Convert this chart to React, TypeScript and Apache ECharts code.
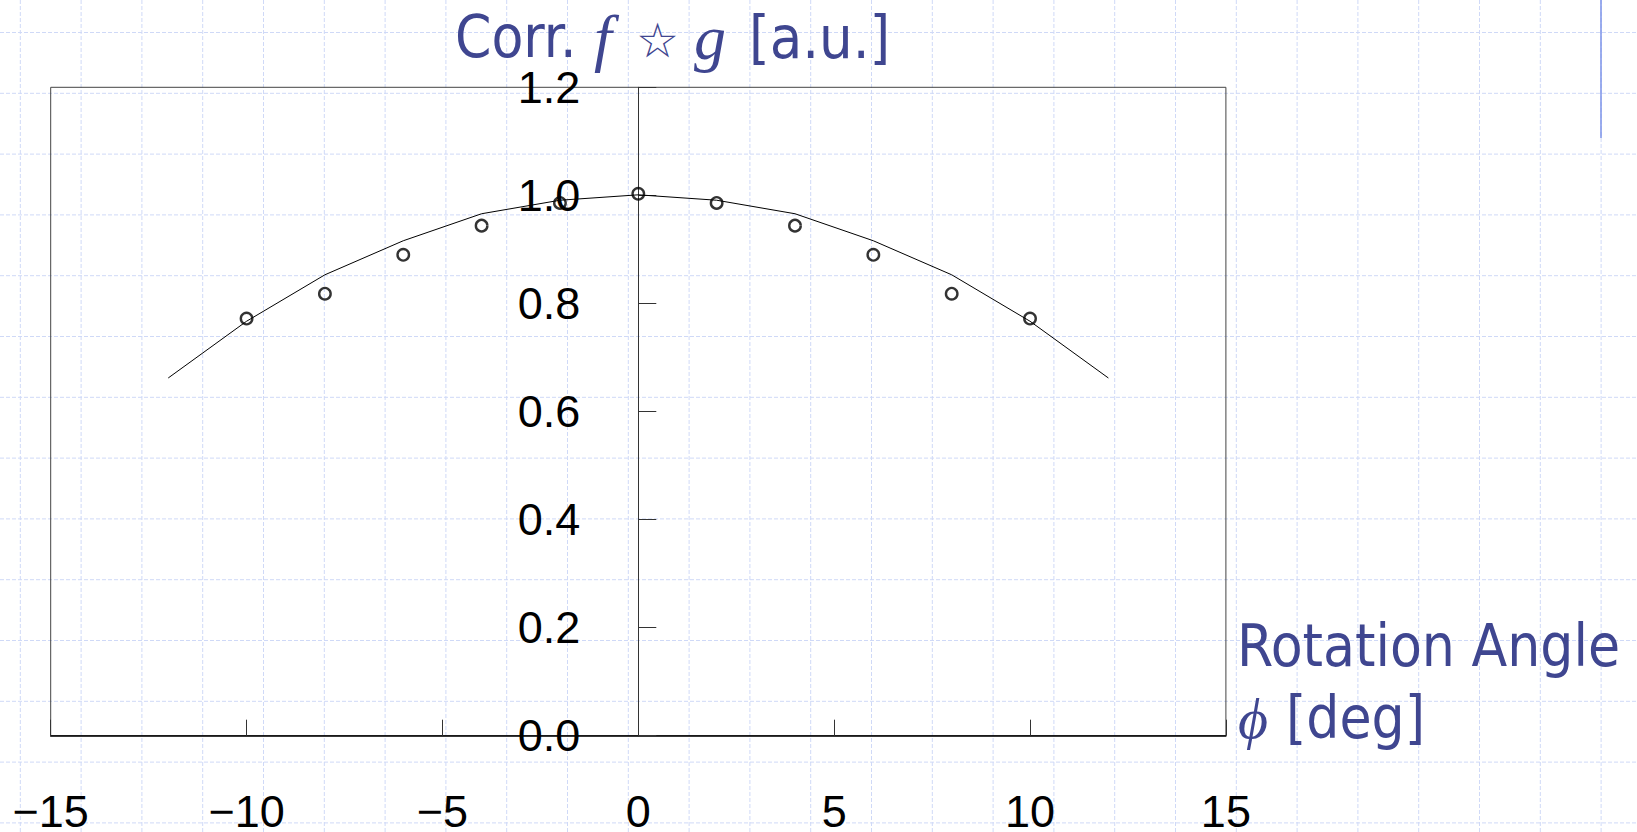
import React, { useEffect, useRef } from "react";
import * as echarts from "echarts";

// Measured correlation (open circles)
const angles = [-10, -8, -6, -4, -2, 0, 2, 4, 6, 8, 10];
const measured = [0.772, 0.818, 0.89, 0.944, 0.986, 1.003, 0.986, 0.944, 0.89, 0.818, 0.772];

// Fitted curve (solid line)
const fitAngles = [-12, -10, -8, -6, -4, -2, 0, 2, 4, 6, 8, 10, 12];
const fitValues = [0.662, 0.767, 0.853, 0.916, 0.966, 0.991, 1.001, 0.991, 0.966, 0.916, 0.853, 0.767, 0.662];

// Axis settings
const xMin = -15;
const xMax = 15;
const xStep = 5;
const yMin = 0;
const yMax = 1.2;
const yStep = 0.2;

const titleParts = ["Corr.", "f", "\u2606", "g", "[a.u.]"];
const xTitleLines = ["Rotation Angle", "\u03D5", "[deg]"];

const BLUE = "#3f4690";
const SANS = "'DejaVu Sans Condensed', 'DejaVu Sans', sans-serif";
const SERIF = "'Liberation Serif', 'DejaVu Serif', serif";
const NUM = "'Liberation Sans', Arial, sans-serif";

export default function App() {
  const ref = useRef<HTMLDivElement>(null);

  useEffect(() => {
    if (!ref.current) return;
    const chart = echarts.init(ref.current, undefined, { renderer: "svg" });

    const W = 1637;
    const H = 832;
    const gridLeft = 50.7;
    const gridTop = 87.3;
    const gridW = 1175.2;
    const gridH = 648.4;
    // y axis sits at x = 0 (inside the grid)
    const yAxisOffset = -((0 - xMin) / (xMax - xMin)) * gridW;

    const gridEls: any[] = [];
    const step = 60.8;
    for (let x = 20.3; x < W; x += step) {
      gridEls.push({
        type: "line",
        z: -10,
        silent: true,
        shape: { x1: x, y1: 0, x2: x, y2: H },
        style: { stroke: "#cfd9f7", lineWidth: 1, lineDash: [4, 2] },
      });
    }
    for (let y = 32.5; y < H; y += step) {
      gridEls.push({
        type: "line",
        z: -10,
        silent: true,
        shape: { x1: 0, y1: y, x2: W, y2: y },
        style: { stroke: "#cfd9f7", lineWidth: 1, lineDash: [4, 2] },
      });
    }

    const textEls: any[] = [
      { type: "text", z: 10, style: { text: titleParts[0], x: 455, y: 37, fill: BLUE, fontSize: 58, fontFamily: SANS, verticalAlign: "middle", align: "left" } },
      { type: "text", z: 10, style: { text: titleParts[1], x: 594, y: 37, fill: BLUE, fontSize: 64, fontFamily: SERIF, fontStyle: "italic", verticalAlign: "middle", align: "left" } },
      { type: "text", z: 10, style: { text: titleParts[2], x: 636, y: 40, fill: BLUE, fontSize: 48, fontFamily: "'DejaVu Sans', sans-serif", verticalAlign: "middle", align: "left" } },
      { type: "text", z: 10, style: { text: titleParts[3], x: 694, y: 37, fill: BLUE, fontSize: 64, fontFamily: SERIF, fontStyle: "italic", verticalAlign: "middle", align: "left" } },
      { type: "text", z: 10, style: { text: titleParts[4], x: 749, y: 37, fill: BLUE, fontSize: 59, fontFamily: SANS, verticalAlign: "middle", align: "left" } },
      { type: "text", z: 10, style: { text: xTitleLines[0], x: 1237, y: 646, fill: BLUE, fontSize: 58, fontFamily: SANS, verticalAlign: "middle", align: "left" } },
      { type: "text", z: 10, style: { text: xTitleLines[1], x: 1238, y: 718, fill: BLUE, fontSize: 58, fontFamily: SERIF, fontStyle: "italic", verticalAlign: "middle", align: "left" } },
      { type: "text", z: 10, style: { text: xTitleLines[2], x: 1286, y: 718, fill: BLUE, fontSize: 58, fontFamily: SANS, verticalAlign: "middle", align: "left" } },
      {
        type: "line",
        z: 10,
        silent: true,
        shape: { x1: 1601, y1: 0, x2: 1601, y2: 138 },
        style: { stroke: "#7d93e8", lineWidth: 1.5 },
      },
    ];

    chart.setOption({
      animation: false,
      backgroundColor: "#ffffff",
      grid: {
        left: gridLeft,
        top: gridTop,
        width: gridW,
        height: gridH,
        containLabel: false,
        outerBoundsMode: "none",
        show: true,
        borderColor: "#444",
        borderWidth: 1,
        backgroundColor: "transparent",
        z: 1,
      },
      graphic: [...gridEls, ...textEls],
      xAxis: {
        type: "value",
        min: xMin,
        max: xMax,
        interval: xStep,
        z: 3,
        axisLine: { show: true, onZero: false, lineStyle: { color: "#000", width: 1.5 } },
        axisTick: { show: true, inside: true, length: 16, lineStyle: { color: "#333", width: 1 } },
        axisLabel: {
          margin: 59,
          fontSize: 45,
          lineHeight: 34,
          fontFamily: NUM,
          color: "#000",
          formatter: (v: number) => String(v).replace("-", "\u2212"),
        },
        splitLine: { show: false },
      },
      yAxis: {
        type: "value",
        position: "left",
        offset: yAxisOffset,
        min: yMin,
        max: yMax,
        interval: yStep,
        z: 3,
        axisLine: { show: true, onZero: false, lineStyle: { color: "#333", width: 1 } },
        axisTick: { show: true, inside: true, length: 18, lineStyle: { color: "#333", width: 1 } },
        axisLabel: {
          margin: 58,
          fontSize: 45,
          fontFamily: NUM,
          color: "#000",
          padding: [9, 0, 0, 0],
          formatter: (v: number) => v.toFixed(1),
        },
        splitLine: { show: false },
      },
      series: [
        {
          type: "line",
          data: fitAngles.map((a, i) => [a, fitValues[i]]),
          showSymbol: false,
          symbol: "none",
          lineStyle: { color: "#000", width: 1 },
          z: 4,
        },
        {
          type: "scatter",
          data: angles.map((a, i) => [a, measured[i]]),
          symbol: "circle",
          symbolSize: 11.5,
          itemStyle: { color: "rgba(255,255,255,0)", borderColor: "#000", borderWidth: 2.4 },
          z: 5,
        },
      ],
    });

    return () => chart.dispose();
  }, []);

  return (
    <div
      ref={ref}
      style={{ position: "absolute", left: 0, top: 0, width: 1637, height: 832 }}
    />
  );
}
